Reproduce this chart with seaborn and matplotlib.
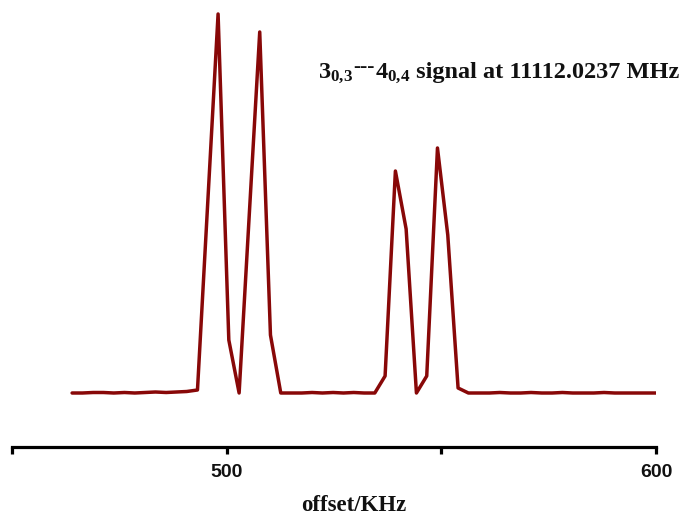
import matplotlib
matplotlib.use("Agg")
import matplotlib.pyplot as plt
import seaborn as sns
import pandas as pd

# Frequency offset (kHz) of each sample in the spectrum
offset_khz = [
    464.0, 466.4, 468.9, 471.3, 473.7, 476.2, 478.6, 481.0, 483.4, 485.9,
    488.3, 490.7, 493.2, 495.6, 498.0, 500.5, 502.9, 505.3, 507.7, 510.2,
    512.6, 515.0, 517.5, 519.9, 522.3, 524.8, 527.2, 529.6, 532.0, 534.5,
    536.9, 539.3, 541.8, 544.2, 546.6, 549.1, 551.5, 553.9, 556.3, 558.8,
    561.2, 563.6, 566.1, 568.5, 570.9, 573.4, 575.8, 578.2, 580.6, 583.1,
    585.5, 587.9, 590.4, 592.8, 595.2, 597.7, 600.1,
]

# Signal intensity (arbitrary units)
intensity = [
    0, 0, 0.5, 0.5, 0, 0.5, 0, 0.5, 1, 0.5,
    1, 1.5, 3, 191, 379, 53, 0, 181, 361, 58,
    0, 0, 0, 0.5, 0, 0.5, 0, 0.5, 0, 0,
    17, 222, 164, 0, 17, 245, 158, 5, 0, 0,
    0, 0.5, 0, 0, 0.5, 0, 0, 0.5, 0, 0,
    0, 0.5, 0, 0, 0, 0, 0,
]

tick_values = [450, 500, 550, 600]
tick_labels = ["", "500", "", "600"]

df = pd.DataFrame({"offset": offset_khz, "intensity": intensity})

sns.set_theme(style="white")
plt.rcParams["mathtext.fontset"] = "custom"
plt.rcParams["mathtext.rm"] = "Liberation Serif:bold"
plt.rcParams["mathtext.bf"] = "Liberation Serif:bold"
plt.rcParams["mathtext.it"] = "Liberation Serif:bold"

TEXT = "#111111"
SERIF = dict(fontfamily="Liberation Serif", fontweight="bold", color=TEXT)

fig = plt.figure(figsize=(6.9, 5.17), dpi=100)
ax = fig.add_axes([12 / 690, 70 / 517, 644 / 690, 437 / 517])

sns.lineplot(data=df, x="offset", y="intensity", ax=ax, color="#880808",
             linewidth=2.5, estimator=None, sort=False)

ax.set_xlim(450, 600)
ax.set_ylim(-54, 383)
ax.set_xticks(tick_values)
ax.set_xticklabels(tick_labels, fontfamily="Liberation Sans",
                   fontweight="bold", fontsize=14, color=TEXT)
ax.set_yticks([])
ax.set_ylabel("")
ax.set_xlabel("")

for side in ["top", "right", "left"]:
    ax.spines[side].set_visible(False)
ax.spines["bottom"].set_linewidth(2.3)
ax.spines["bottom"].set_color("black")
ax.tick_params(axis="x", direction="out", length=5, width=2.3,
               color="black", pad=7, bottom=True)

# axis title under the ticks
fig.text(354 / 690, (517 - 511) / 517, "offset/KHz", fontsize=16.5,
         va="baseline", ha="center", **SERIF)

# transition label, built piece by piece so the dashes can sit raised
base_y = (517 - 78) / 517
fs = 17.5
p1 = ax.annotate(r"$\mathrm{3_{0{,}3}}$", xy=(318 / 690, base_y),
                 xycoords="figure fraction", va="baseline", ha="left",
                 fontsize=fs, annotation_clip=False, **SERIF)
p2 = ax.annotate("---", xy=(1, base_y), xycoords=(p1, "figure fraction"),
                 xytext=(0.3, 4), textcoords="offset points",
                 va="baseline", ha="left", fontsize=fs - 2,
                 annotation_clip=False, **SERIF)
p3 = ax.annotate(r"$\mathrm{4_{0{,}4}}$", xy=(1, base_y),
                 xycoords=(p2, "figure fraction"), xytext=(0.3, 0),
                 textcoords="offset points", va="baseline", ha="left",
                 fontsize=fs, annotation_clip=False, **SERIF)
ax.annotate(" signal at 11112.0237 MHz", xy=(1, base_y),
            xycoords=(p3, "figure fraction"), va="baseline", ha="left",
            fontsize=fs, annotation_clip=False, **SERIF)

fig.savefig("out.png", dpi=100)
